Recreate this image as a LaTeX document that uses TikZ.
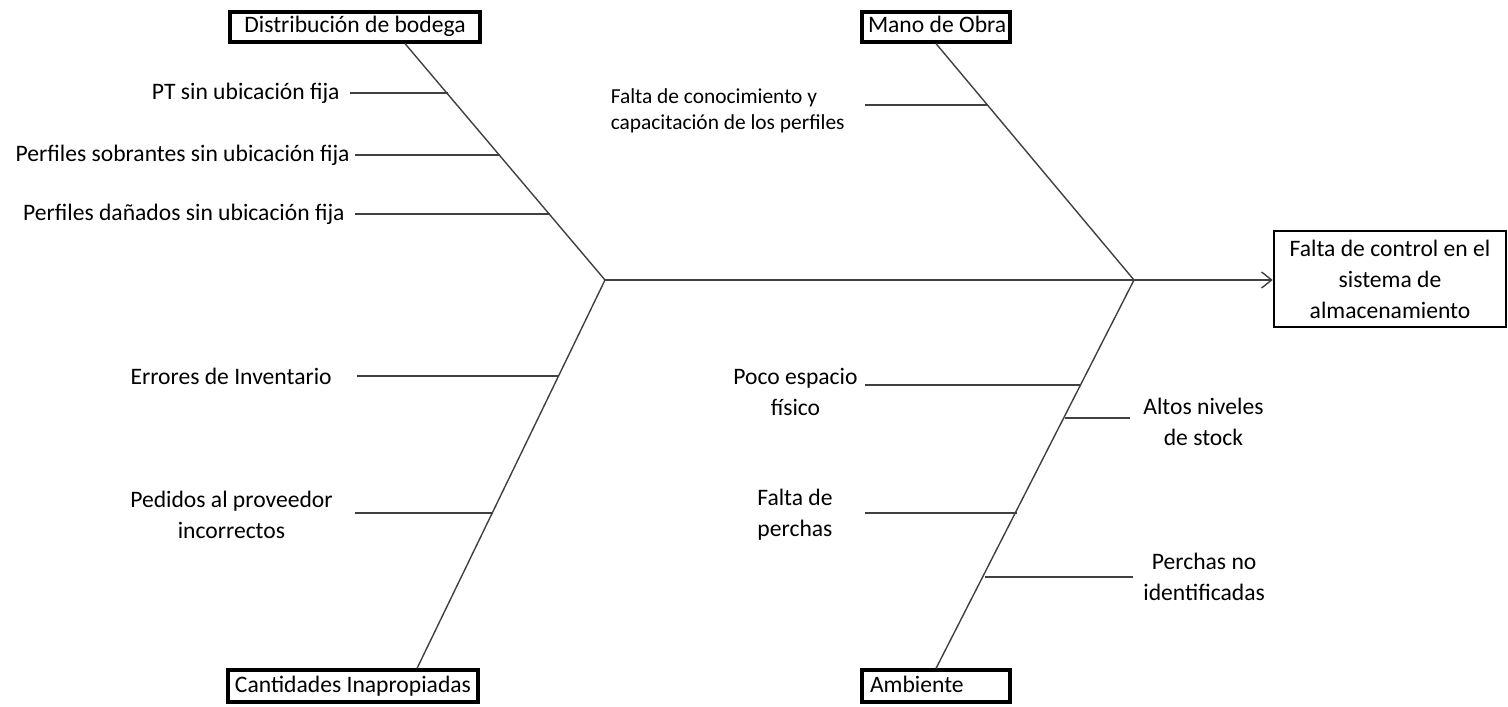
\documentclass[tikz,border=0pt]{standalone}
\usepackage{fontspec}
\setmainfont{Carlito}
\usetikzlibrary{positioning,arrows.meta}

\begin{document}
\begin{tikzpicture}[x=0.5pt,y=-0.5pt,
        every node/.style={font=\fontsize{11.8}{15.5}\selectfont},
        cat/.style={draw,line width=1.6pt,minimum height=15pt,inner ysep=0pt,text height=8.5pt,text depth=2.5pt},
        bone/.style={draw=black!75,line width=0.7pt},
        cause/.style={inner sep=0pt,align=center}]
                \useasboundingbox (0,0) rectangle (1508,706);

                % categorias
                \node[cat,minimum width=125pt] at (355,27) (dist) {Distribución de bodega};
                \node[cat,minimum width=74pt,inner xsep=3pt] at (936,27) (mano) {\makebox[68pt][l]{Mano de Obra}};
                \node[cat,minimum width=125pt,minimum height=16pt] at (353,686) (cant) {Cantidades Inapropiadas};
                \node[cat,minimum width=74pt,minimum height=16pt,inner xsep=3pt] at (936,686) (amb) {\makebox[68pt][l]{\hspace*{1pt}Ambiente}};
                \node[draw,line width=1.3pt,minimum width=116pt,minimum height=48pt,inner sep=0pt,align=center] at (1390,279) (efecto) {Falta de control en el\\sistema de\\almacenamiento};

                % espina
                \coordinate (j1) at (605,280);
                \coordinate (j2) at (1134,280);
                \draw[bone,-{Straight Barb[length=5pt,width=8pt]}] (j1) -- (efecto.west |- j1);
                \draw[bone] ([xshift=25pt]dist.south) -- (j1);
                \draw[bone] (mano.south) -- (j2);
                \draw[bone] (j1) -- ([xshift=32pt]cant.north);
                \draw[bone] (j2) -- (amb.north);

                % causas
                \coordinate (b1) at (448,93);  \coordinate (c1) at (350,93);
                \coordinate (b2) at (500,155); \coordinate (c2) at (355,155);
                \coordinate (b3) at (550,214); \coordinate (c3) at (355,214);
                \coordinate (m1) at (988,105); \coordinate (n1) at (865,105);
                \coordinate (e1) at (559,376); \coordinate (f1) at (357,376);
                \coordinate (e2) at (493,513); \coordinate (f2) at (355,513);
                \coordinate (a1) at (1081,385); \coordinate (p1) at (865,385);
                \coordinate (a2) at (1065,418); \coordinate (p2) at (1130,418);
                \coordinate (a3) at (1017,513); \coordinate (p3) at (865,513);
                \coordinate (a4) at (985,577); \coordinate (p4) at (1133,577);
                \foreach \s/\t in {c1/b1,c2/b2,c3/b3,n1/m1,f1/e1,f2/e2,p1/a1,a2/p2,p3/a3,a4/p4}
                    \draw[bone] (\s) -- (\t);

                \node[cause,left=5pt of c1] (pt) {PT sin ubicación fija};
                \node[cause,left=2.5pt of c2] (sob) {Perfiles sobrantes sin ubicación fija};
                \node[cause,left=5pt of c3] (dan) {Perfiles dañados sin ubicación fija};
                \node[cause,align=left,left=10pt of n1,yshift=-3pt,font=\fontsize{10.7}{13}\selectfont] (con) {Falta de conocimiento y\\capacitación de los perfiles};
                \node[cause,left=12.5pt of f1] (err) {Errores de Inventario};
                \node[cause,left=11pt of f2,yshift=-1pt] (ped) {Pedidos al proveedor\\incorrectos};
                \node[cause,left=3.5pt of p1,yshift=-3.5pt] (esp) {Poco espacio\\físico};
                \node[cause,right=6.5pt of p2,yshift=-2pt] (alt) {Altos niveles\\de stock};
                \node[cause,left=16pt of p3,yshift=-1pt] (fal) {Falta de\\perchas};
                \node[cause,right=5pt of p4] (per) {Perchas no\\identificadas};
            \end{tikzpicture}
\end{document}
